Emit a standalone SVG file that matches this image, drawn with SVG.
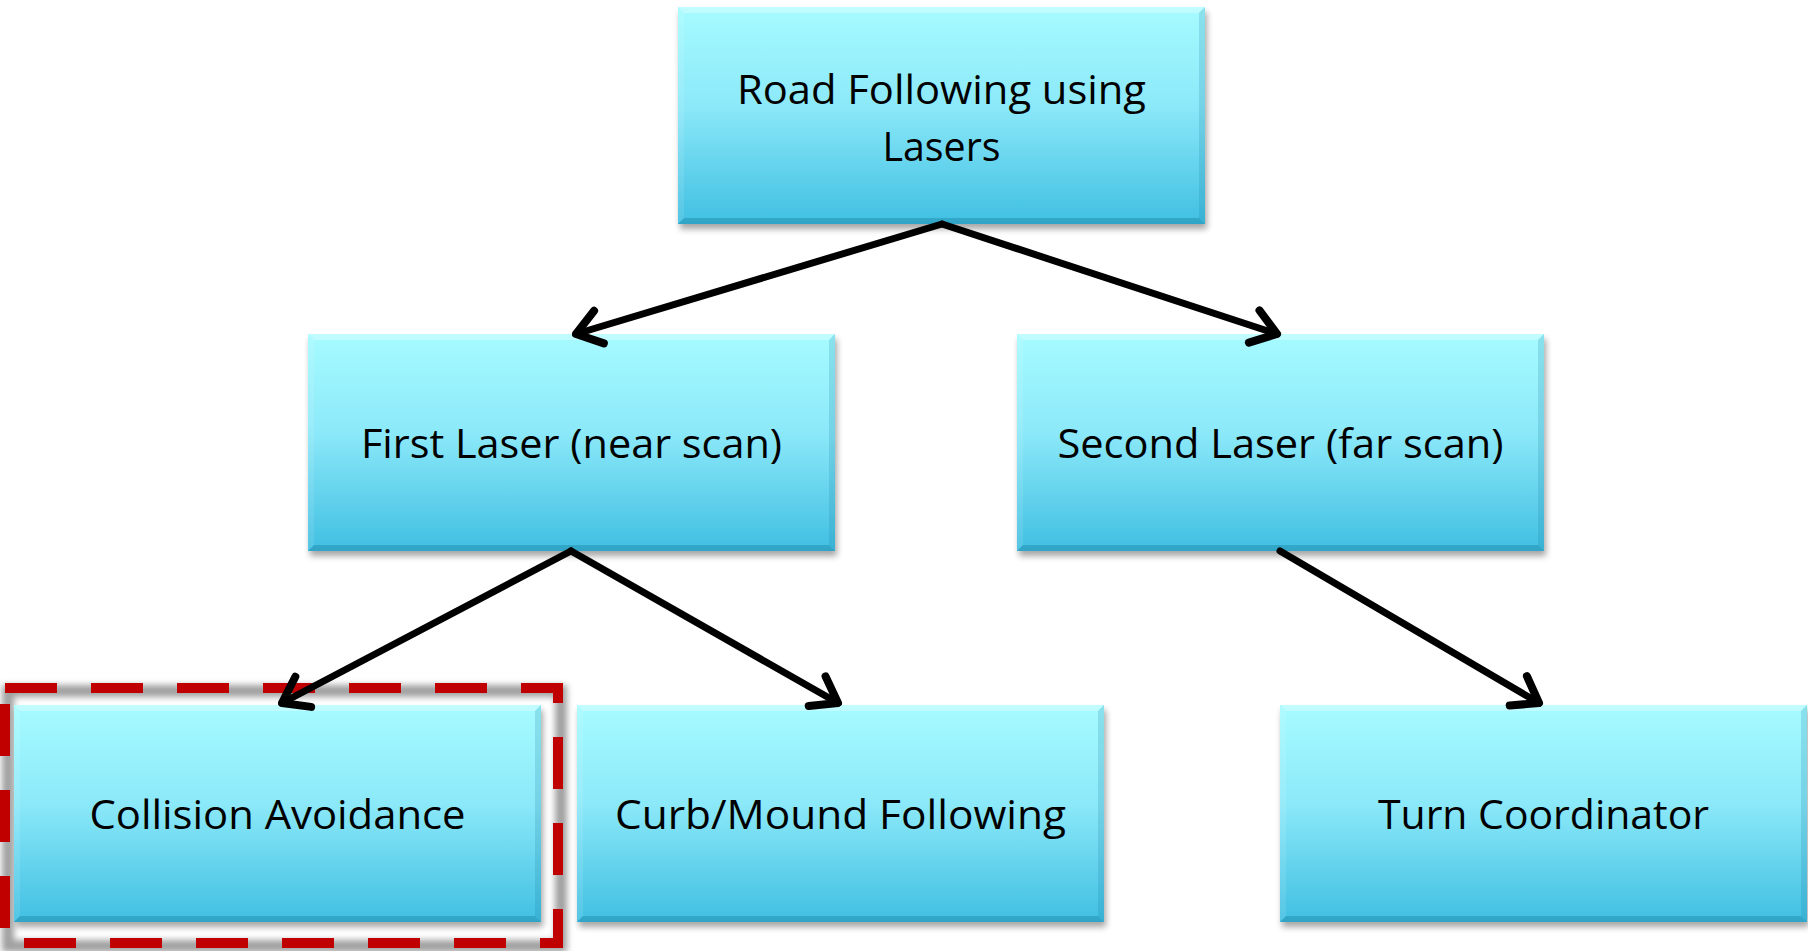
<svg xmlns="http://www.w3.org/2000/svg" xmlns:xlink="http://www.w3.org/1999/xlink" width="1808" height="951" viewBox="0 0 1808 951">
<style>
.lbl{font-family:"Open Sans","Noto Sans","Liberation Sans",sans-serif;font-size:40px;fill:#000;text-anchor:middle}
.conn{stroke:#000;stroke-width:7;fill:none;stroke-linecap:round;marker-end:url(#arr)}
</style>
<defs>
<linearGradient id="fill" x1="0" y1="0" x2="0" y2="1">
<stop offset="0" stop-color="#A6FBFF"/>
<stop offset="0.45" stop-color="#8CE9F9"/>
<stop offset="1" stop-color="#40BFE2"/>
</linearGradient>
<filter id="sh" x="-10%" y="-10%" width="120%" height="130%">
<feGaussianBlur stdDeviation="3"/>
</filter>
<filter id="gsh" x="-10%" y="-10%" width="120%" height="120%">
<feGaussianBlur stdDeviation="3"/>
</filter>
<marker id="arr" markerUnits="userSpaceOnUse" markerWidth="60" markerHeight="60" refX="0" refY="0" viewBox="-30 -30 60 60" orient="auto" overflow="visible">
<path d="M-24,-17 L0,0 L-24,17" fill="none" stroke="#000" stroke-width="8" stroke-linecap="round" stroke-linejoin="round"/>
</marker>
<g id="box">
<rect x="2" y="5" width="527" height="217" fill="#000" opacity="0.35" filter="url(#sh)"/>
<rect x="0" y="0" width="527" height="217" fill="url(#fill)"/>
<polygon points="0,0 527,0 521,6 6,6" fill="#fff" opacity="0.3"/>
<polygon points="0,0 6,6 6,211 0,217" fill="#fff" opacity="0.1"/>
<polygon points="527,0 527,217 521,211 521,6" fill="#1b7fa0" opacity="0.2"/>
<polygon points="0,217 527,217 521,211 6,211" fill="#1b7fa0" opacity="0.4"/>
</g>
</defs>
<rect width="1808" height="951" fill="#fff"/>
<g id="highlight">
<rect x="8" y="691" width="553" height="255" fill="none" stroke="#a0a0a0" stroke-width="12" filter="url(#gsh)"/>
<rect x="5" y="688" width="553" height="255" fill="none" stroke="#C00000" stroke-width="10" stroke-dasharray="52 34"/>
</g>
<g id="node-road">
<use xlink:href="#box" x="678" y="7"/>
<text class="lbl" x="941.5" y="104" textLength="409" lengthAdjust="spacingAndGlyphs">Road Following using</text>
<text class="lbl" x="941.5" y="161" textLength="118" lengthAdjust="spacingAndGlyphs">Lasers</text>
</g>
<g id="node-first">
<use xlink:href="#box" x="308" y="334"/>
<text class="lbl" x="571.5" y="458" textLength="421" lengthAdjust="spacingAndGlyphs">First Laser (near scan)</text>
</g>
<g id="node-second">
<use xlink:href="#box" x="1017" y="334"/>
<text class="lbl" x="1280.5" y="458" textLength="446" lengthAdjust="spacingAndGlyphs">Second Laser (far scan)</text>
</g>
<g id="node-collision">
<use xlink:href="#box" x="14" y="705"/>
<text class="lbl" x="277.5" y="829" textLength="376" lengthAdjust="spacingAndGlyphs">Collision Avoidance</text>
</g>
<g id="node-curb">
<use xlink:href="#box" x="577" y="705"/>
<text class="lbl" x="840.5" y="829" textLength="451" lengthAdjust="spacingAndGlyphs">Curb/Mound Following</text>
</g>
<g id="node-turn">
<use xlink:href="#box" x="1280" y="705"/>
<text class="lbl" x="1543.5" y="829" textLength="331" lengthAdjust="spacingAndGlyphs">Turn Coordinator</text>
</g>
<g id="connectors">
<line class="conn" x1="942" y1="224" x2="576" y2="334"/>
<line class="conn" x1="942" y1="224" x2="1277" y2="334"/>
<line class="conn" x1="571" y1="551" x2="282" y2="703"/>
<line class="conn" x1="571" y1="551" x2="838" y2="703"/>
<line class="conn" x1="1280" y1="551" x2="1539" y2="703"/>
</g>
</svg>
